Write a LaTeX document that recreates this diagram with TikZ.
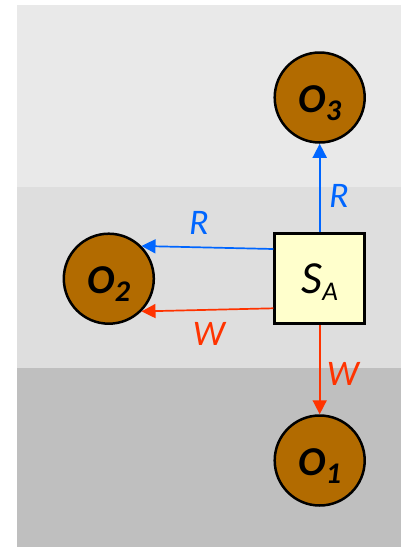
\documentclass[tikz,border=0pt]{standalone}
\usepackage{fontspec}
\setmainfont{Carlito}
\usetikzlibrary{arrows.meta}
\definecolor{bandA}{HTML}{E9E9E9}
\definecolor{bandB}{HTML}{DEDEDE}
\definecolor{bandC}{HTML}{BFBFBF}
\definecolor{objfill}{HTML}{B26B00}
\definecolor{subjfill}{HTML}{FFFFCC}
\definecolor{rdblue}{HTML}{0066FF}
\definecolor{wrred}{HTML}{FF3300}
\newcommand{\olab}[1]{{\fontsize{41}{41}\selectfont\bfseries\itshape O}\raisebox{-8pt}{\fontsize{30}{30}\selectfont\bfseries\itshape #1}}
\tikzset{
  obj/.style={circle, draw=black, line width=2.5pt, fill=objfill, minimum size=90pt, inner sep=0pt, text height=29.2pt, text depth=0pt},
  subj/.style={rectangle, draw=black, line width=2.7pt, fill=subjfill, minimum size=90pt, inner sep=0pt, text height=29.2pt, text depth=0pt},
  lbl/.style={font=\fontsize{36}{36}\selectfont\itshape, inner sep=0pt},
  rarrow/.style={draw=rdblue, line width=1.7pt, -{Triangle[length=14pt,width=14pt]}},
  warrow/.style={draw=wrred, line width=1.7pt, -{Triangle[length=14pt,width=14pt]}}
}
\begin{document}
\begin{tikzpicture}[x=1pt,y=-1pt]
\useasboundingbox (0,0) rectangle (401,547);
\fill[bandA] (17,5) rectangle (401,187);
\fill[bandB] (17,187) rectangle (401,368);
\fill[bandC] (17,368) rectangle (401,547);
\node[obj] (O3) at (319.7,97.5) {\olab{3}};
\node[obj] (O2) at (108.8,278.7) {\olab{2}};
\node[obj] (O1) at (319.7,460.5) {\olab{1}};
\node[subj] (SA) at (319.7,278.7) {{\fontsize{46}{46}\selectfont\itshape S}\raisebox{-7.4pt}{\fontsize{27}{27}\selectfont\itshape A}};
\draw[rarrow] (SA.north) -- (O3.south);
\draw[rarrow] ([yshift=29.7pt]SA.west) -- (O2.45);
\draw[warrow] ([yshift=-29.6pt]SA.west) -- (O2.-45);
\draw[warrow] (SA.south) -- (O1.north);
\node[lbl, text=rdblue] (lr1) at (339,196) {R};
\node[lbl, text=rdblue] (lr2) at (199,223) {R};
\node[lbl, text=wrred] (lw1) at (209,334) {W};
\node[lbl, text=wrred] (lw2) at (343,374) {W};
\end{tikzpicture}
\end{document}
